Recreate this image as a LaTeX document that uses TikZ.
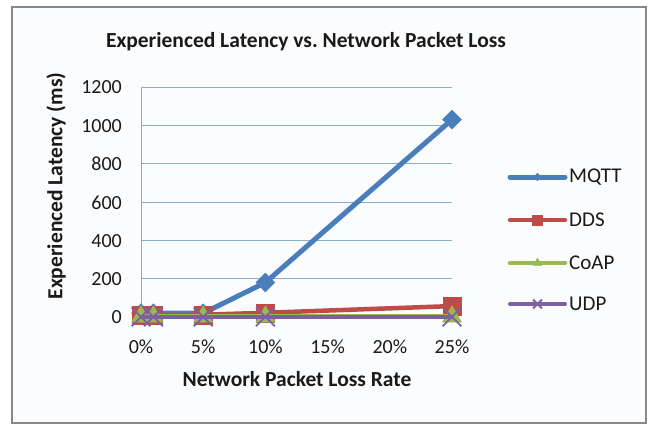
\documentclass[tikz,border=0pt]{standalone}
\usepackage{fontspec}
\setmainfont{Carlito}
\usetikzlibrary{shapes.geometric,shapes.misc,calc}
\definecolor{mqttc}{HTML}{4A7EBB}
\definecolor{ddsc}{HTML}{BE4B48}
\definecolor{coapc}{HTML}{98B954}
\definecolor{udpc}{HTML}{7D60A0}
\definecolor{gridc}{HTML}{86AFCB}
\definecolor{framec}{HTML}{888888}
\definecolor{bgc}{HTML}{FBFCFE}
\definecolor{inkc}{HTML}{1A1A1A}
\begin{document}
\begin{tikzpicture}[x=1pt,y=-1pt,
  txt/.style={font=\fontsize{21}{21}\selectfont, text=inkc, inner sep=0},
  ticktxt/.style={font=\fontsize{20}{20}\selectfont, text=inkc, inner sep=0},
  btxt/.style={font=\fontsize{21.5}{21.5}\selectfont\bfseries, text=inkc, inner sep=0},
  gridline/.style={gridc, line width=1},
  mqttline/.style={mqttc, line width=5, line join=round, line cap=round},
  ddsline/.style={ddsc, line width=4.5, line join=round, line cap=round},
  coapline/.style={coapc, line width=4.5, line join=round, line cap=round},
  udpline/.style={udpc, line width=4, line join=round, line cap=round},
  mqttmark/.style={diamond, fill=mqttc, draw=mqttc, inner sep=0, minimum size=#1},
  ddsmark/.style={rectangle, fill=ddsc, draw=ddsc, inner sep=0, minimum size=#1},
  coapmark/.style={regular polygon, regular polygon sides=3, fill=coapc, draw=coapc, inner sep=0, minimum size=#1},
  udpmark/.style={cross out, draw=udpc, line width=1.8, inner sep=0, minimum size=#1},
]
\useasboundingbox (0,0) rectangle (652,426);
\fill[white] (0,0) rectangle (652,426);
\draw[framec, line width=2, fill=bgc] (12,7) rectangle (646,423);

% titles
\node[btxt] (title) at (306,42) {Experienced Latency vs.\ Network Packet Loss};
\node[btxt, rotate=90] (ylab) at (56,186) {Experienced Latency (ms)};
\node[btxt] (xlab) at (297,379) {Network Packet Loss Rate};

% value axis labels
\foreach \v/\yy in {0/317,200/279,400/241,600/203,800/164,1000/126,1200/87}
  \node[ticktxt, anchor=east] (yt\v) at (122,\yy) {\v};
% category labels
\foreach \c [count=\i from 0] in {0,5,10,15,20,25}
  \node[ticktxt] (xt\c) at ({141+62.2*\i},347) {\c\%};

% plot area: one x unit = 1 %, one y unit = 1 ms
\begin{scope}[shift={(141,317)}, x=12.44pt, y=0.19167pt]
  \foreach \v in {200,400,...,1200}
    \draw[gridline] (0,\v) -- (25,\v);
  \draw[gridline] (0,0) -- (0,1200);
  \draw[gridline] (0,0) -- (25,0);

  % MQTT
  \foreach \x/\y [count=\k] in {0/20,1/20,5/20,10/180,25/1030}
    \coordinate (q\k) at (\x,\y);
  \draw[mqttline] (q1) -- (q2) -- (q3) -- (q4) -- (q5);
  \foreach \k in {1,...,5} \node[mqttmark=19pt] (qm\k) at (q\k) {};

  % DDS
  \foreach \x/\y [count=\k] in {0/10,1/10,5/12,10/22,25/57}
    \coordinate (d\k) at (\x,\y);
  \draw[ddsline] (d1) -- (d2) -- (d3) -- (d4) -- (d5);
  \foreach \k in {1,...,5} \node[ddsmark=18pt] (dm\k) at (d\k) {};

  % CoAP
  \foreach \x/\y [count=\k] in {0/2,1/2,5/2,10/2,25/2}
    \coordinate (c\k) at (\x,\y);
  \draw[coapline] (c1) -- (c2) -- (c3) -- (c4) -- (c5);
  \foreach \k in {1,...,5} \node[coapmark=22pt] (cm\k) at (c\k) {};

  % UDP
  \foreach \x/\y [count=\k] in {0/1,1/1,5/1,10/1,25/1}
    \coordinate (u\k) at (\x,\y);
  \draw[udpline] (u1) -- (u2) -- (u3) -- (u4) -- (u5);
  \foreach \k in {1,...,5} \node[udpmark=17pt] (um\k) at (u\k) {};
\end{scope}

% legend
\foreach \s/\nm/\yy/\sz in {mqtt/MQTT/177/8pt, dds/DDS/220/10pt, coap/CoAP/263/10pt, udp/UDP/304/7pt}{
  \coordinate (\s L) at (510,\yy);
  \coordinate (\s R) at (565,\yy);
  \draw[\s line] (\s L) -- (\s R);
  \node[\s mark=\sz] (\s M) at ($(\s L)!0.5!(\s R)$) {};
  \node[txt, anchor=west] (\s T) at (569,\yy) {\nm};
}
\end{tikzpicture}
\end{document}
